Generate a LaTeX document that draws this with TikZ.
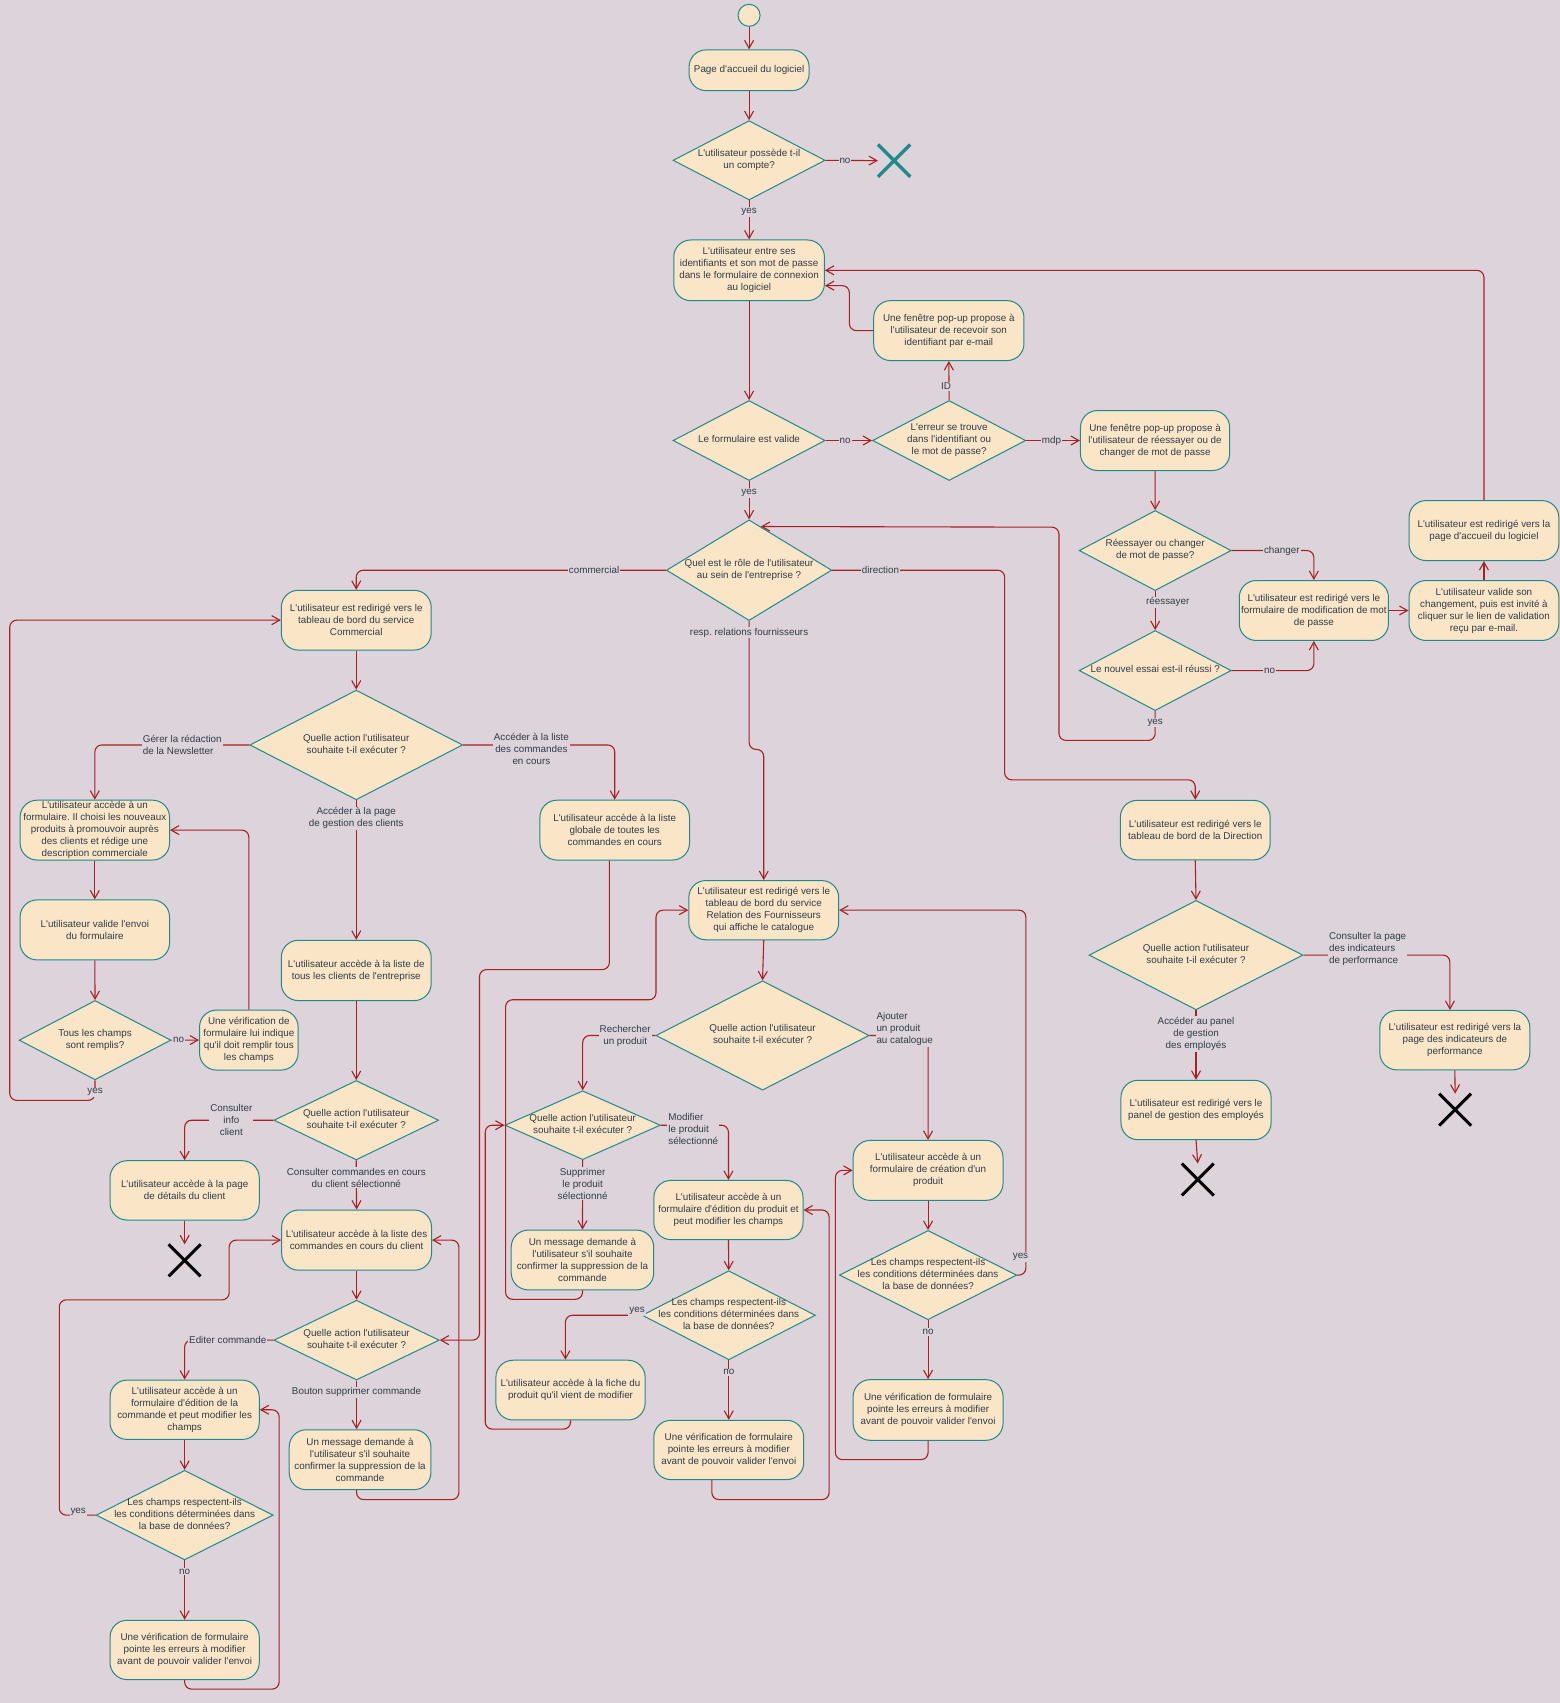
\documentclass[tikz,border=0pt]{standalone}
\usepackage{fontspec}
\newfontfamily\dfont{Liberation Sans}
\usetikzlibrary{shapes.geometric,shapes.misc,arrows.meta}
\frenchspacing

\definecolor{bgc}{RGB}{221,211,219}
\definecolor{boxc}{RGB}{250,229,199}
\definecolor{tealc}{RGB}{30,138,138}
\definecolor{redc}{RGB}{168,32,32}
\definecolor{txtc}{RGB}{48,60,72}

\tikzset{
  every node/.style={font=\dfont\fontsize{9.85}{12}\selectfont, text=txtc},
  actbox/.style={draw=tealc, fill=boxc, rounded corners=17pt, line width=1pt,
    align=center, inner xsep=1pt, inner ysep=1pt},
  decision/.style={diamond, draw=tealc, fill=boxc, line width=1pt, inner sep=0pt},
  startdot/.style={circle, draw=tealc, fill=boxc, line width=1pt, minimum size=22pt, inner sep=0pt},
  endmark/.style={cross out, draw=black, line width=3pt, minimum size=29pt, inner sep=0pt},
  flow/.style={draw=redc, line width=1.1pt, rounded corners=7pt,
    -{Straight Barb[length=8pt,width=9pt,line width=1.1pt]}},
  lbl/.style={fill=bgc, inner sep=1pt, sharp corners, align=center},
}

% rounded activity box: name, centre x, centre y, width, height, text
\newcommand\mkbox[6]{\node[actbox,minimum width=#4*1.0864pt,minimum height=#5*1.0864pt] (#1) at (#2,#3) {#6};}
% decision diamond: name, centre x, centre y, width, height, text
\newcommand\mkdia[6]{\node[decision,minimum width=#4*1.0864pt,minimum height=#5*1.0864pt] (#1) at (#2,#3) {\makebox[0pt]{\begin{tabular}{@{}c@{}}#6\end{tabular}}};}

\begin{document}
\begin{tikzpicture}[x=1.0864pt,y=-1.0864pt]
\useasboundingbox (0,0) rectangle (1436,1568);
\fill[bgc] (0,0) rectangle (1436,1568);

% ---------- login part ----------
\node[startdot] (start) at (689.7,14.1) {};
\mkbox{home}{689.7}{64.7}{110.5}{37.5}{Page d'accueil du logiciel}
\mkdia{dAcc}{689.7}{147.6}{140}{73}{L'utilisateur possède t-il\\un compte?}
\node[endmark, draw=tealc, line width=3.3pt] (X1) at (823.2,147.9) {};
\mkbox{login}{689.7}{248.9}{138.7}{55.9}{L'utilisateur entre ses\\identifiants et son mot de passe\\dans le formulaire de connexion\\au logiciel}
\mkbox{popID}{873.6}{304.4}{138.4}{55.2}{Une fenêtre pop-up propose à\\l'utilisateur de recevoir son\\identifiant par e-mail}
\mkdia{dValid}{689.7}{405.6}{140}{73.6}{Le formulaire est valide}
\mkdia{dErr}{873.9}{405.6}{141}{73.6}{L'erreur se trouve\\dans l'identifiant ou\\le mot de passe?}
\mkbox{popPwd}{1063.5}{405.6}{137.4}{55.2}{Une fenêtre pop-up propose à\\l'utilisateur de réessayer ou de\\changer de mot de passe}
\mkdia{dRetry}{1063.6}{506.9}{140}{73.7}{Réessayer ou changer\\de mot de passe?}
\mkdia{dNew}{1063.6}{617.4}{140}{73.7}{Le nouvel essai est-il réussi ?}
\mkbox{modpwd}{1209.7}{562.1}{137.4}{55.2}{L'utilisateur est redirigé vers le\\formulaire de modification de mot\\de passe}
\mkbox{valid}{1366.3}{562.1}{138}{55.2}{L'utilisateur valide son\\changement, puis est invité à\\cliquer sur le lien de validation\\reçu par e-mail.}
\mkbox{redir}{1366.3}{488.5}{138}{55.2}{L'utilisateur est redirigé vers la\\page d'accueil du logiciel}
\mkdia{dRole}{689.7}{525}{152.2}{92.7}{Quel est le rôle de l'utilisateur\\au sein de l'entreprise ?}

% ---------- commercial part ----------
\mkbox{commercial}{328}{571}{138}{55}{L'utilisateur est redirigé vers le\\tableau de bord du service\\Commercial}
\mkdia{dCom}{328}{685.9}{196}{101}{Quelle action l'utilisateur\\souhaite t-il exécuter ?}
\mkbox{news}{87.3}{764.3}{137.6}{55.1}{L'utilisateur accède à un\\formulaire. Il choisi les nouveaux\\produits à promouvoir auprès\\des clients et rédige une\\description commerciale}
\mkbox{validEnvoi}{87.3}{856.2}{137.6}{55.2}{L'utilisateur valide l'envoi\\du formulaire}
\mkdia{dFields}{87.5}{957.7}{139.7}{73}{Tous les champs\\sont remplis?}
\mkbox{verif}{229.1}{957.6}{90.8}{55.2}{Une vérification de\\formulaire lui indique\\qu'il doit remplir tous\\les champs}
\mkbox{globalOrders}{566}{764.3}{137.7}{55.1}{L'utilisateur accède à la liste\\globale de toutes les\\commandes en cours}
\mkbox{clientList}{328}{893.5}{138}{55.5}{L'utilisateur accède à la liste de\\tous les clients de l'entreprise}
\mkdia{dClient}{328}{1031.4}{151.6}{73.1}{Quelle action l'utilisateur\\souhaite t-il exécuter ?}
\mkbox{clientDetails}{170}{1096}{137.4}{54.6}{L'utilisateur accède à la page\\de détails du client}
\node[endmark] (X2) at (170,1160.4) {};
\mkbox{clientOrders}{328.3}{1141.8}{138}{55.4}{L'utilisateur accède à la liste des\\commandes en cours du client}
\mkdia{dOrder}{328.3}{1233.9}{152.2}{73.4}{Quelle action l'utilisateur\\souhaite t-il exécuter ?}
\mkbox{editOrder}{170}{1298}{137.4}{54.6}{L'utilisateur accède à un\\formulaire d'édition de la\\commande et peut modifier les\\champs}
\mkdia{dOCheck}{170}{1395}{163}{82.5}{Les champs respectent-ils\\les conditions déterminées dans\\la base de données?}
\mkbox{orderVerif}{170}{1519.1}{137.4}{54.6}{Une vérification de formulaire\\pointe les erreurs à modifier\\avant de pouvoir valider l'envoi}
\mkbox{delOrderMsg}{331.5}{1344}{130.4}{55.2}{Un message demande à\\l'utilisateur s'il souhaite\\confirmer la suppression de la\\commande}

% ---------- supplier part ----------
\mkbox{supplier}{703.2}{838}{138}{54.5}{L'utilisateur est redirigé vers le\\tableau de bord du service\\Relation des Fournisseurs\\qui affiche le catalogue}
\mkdia{dSup}{702.1}{953.4}{196.3}{100.7}{Quelle action l'utilisateur\\souhaite t-il exécuter ?}
\mkdia{dProd}{536.5}{1036}{143}{63.4}{Quelle action l'utilisateur\\souhaite t-il exécuter ?}
\mkbox{delProdMsg}{536.3}{1160.1}{131.2}{55}{Un message demande à\\l'utilisateur s'il souhaite\\confirmer la suppression de la\\commande}
\mkbox{editProd}{670.7}{1114.1}{137.3}{54.5}{L'utilisateur accède à un\\formulaire d'édition du produit et\\peut modifier les champs}
\mkdia{dPCheck}{671}{1211}{159.6}{82}{Les champs respectent-ils\\les conditions déterminées dans\\la base de données?}
\mkbox{prodSheet}{525.3}{1279.9}{137.4}{55}{L'utilisateur accède à la fiche du\\produit qu'il vient de modifier}
\mkbox{prodVerif}{671}{1335}{138}{54.6}{Une vérification de formulaire\\pointe les erreurs à modifier\\avant de pouvoir valider l'envoi}
\mkbox{createProd}{854.5}{1077.6}{138}{55.2}{L'utilisateur accède à un\\formulaire de création d'un\\produit}
\mkdia{dCCheck}{854.5}{1174}{163.2}{82.2}{Les champs respectent-ils\\les conditions déterminées dans\\la base de données?}
\mkbox{createVerif}{854.5}{1298.2}{138}{55.8}{Une vérification de formulaire\\pointe les erreurs à modifier\\avant de pouvoir valider l'envoi}

% ---------- direction part ----------
\mkbox{direction}{1100.5}{764.3}{138}{54.9}{L'utilisateur est redirigé vers le\\tableau de bord de la Direction}
\mkdia{dDir}{1101.2}{879.4}{197}{100.7}{Quelle action l'utilisateur\\souhaite t-il exécuter ?}
\mkbox{employees}{1101.2}{1022}{138.2}{54.7}{L'utilisateur est redirigé vers le\\panel de gestion des employés}
\node[endmark] (X3) at (1102.8,1086) {};
\mkbox{kpi}{1339.5}{957.7}{138.1}{54.7}{L'utilisateur est redirigé vers la\\page des indicateurs de\\performance}
\node[endmark] (X4) at (1339.8,1021.7) {};

% ---------- connectors: login ----------
\draw[flow] (start) -- (home);
\draw[flow] (home) -- (dAcc);
\draw[flow] (dAcc.east) -- node[lbl,pos=.37]{no} (X1.west);
\draw[flow] (dAcc.south) -- node[lbl,pos=.3]{yes} (login.north);
\draw[flow] (login.south) -- (dValid.north);
\draw[flow] (popID.west) -| (782,263) -- (login.east |- 0,263);
\draw[flow] (dValid.east) -- node[lbl,pos=.42]{no} (dErr.west);
\draw[flow] (dValid.south) -- node[lbl,pos=.31]{yes} (dRole.north);
\draw[flow] (dErr.north) -- node[lbl,pos=.35,xshift=-3pt]{ID} (popID.south);
\draw[flow] (dErr.east) -- node[lbl,pos=.47]{mdp} (popPwd.west);
\draw[flow] (popPwd.south) -- (dRetry.north);
\draw[flow] (dRetry.east) -| node[lbl,pos=.305]{changer} (modpwd.north);
\draw[flow] (dRetry.south) -- node[lbl,pos=.29,xshift=12.6pt]{réessayer} (dNew.north);
\draw[flow] (dNew.east) -| node[lbl,pos=.23]{no} (modpwd.south);
\draw[flow] (dNew.south) -- node[lbl,pos=.4]{yes} ++(0,27) -| (975,485.4) -- (dRole.75);
\draw[flow] (modpwd.east) -- (valid.west);
\draw[flow] (valid.north) -- (redir.south);
\draw[flow] (redir.north) |- (login.east);

% ---------- connectors: role ----------
\draw[flow] (dRole.west) -| node[lbl,pos=.116]{commercial} (commercial.north);
\draw[flow] (dRole.east) -| node[lbl,pos=.14]{direction} (925,718) -| (direction.north);
\draw[flow] (dRole.south) |- node[lbl,pos=.045]{resp. relations fournisseurs} (supplier.north |- 0,690) -- (supplier.north);

% ---------- connectors: commercial ----------
\draw[flow] (commercial.south) -- (dCom.north);
\draw[flow] (dCom.west) -| node[lbl,pos=.217,align=left]{Gérer la rédaction\\de la Newsletter} (news.north);
\draw[flow] (dCom.east) -| node[lbl,pos=.225,yshift=-4pt]{Accéder à la liste\\des commandes\\en cours} (globalOrders.north);
\draw[flow] (dCom.south) -- node[lbl,pos=.128]{Accéder à la page\\de gestion des clients} (clientList.north);
\draw[flow] (news.south) -- (validEnvoi.north);
\draw[flow] (validEnvoi.south) -- (dFields.north);
\draw[flow] (dFields.east) -- node[lbl,pos=.26]{no} (verif.west);
\draw[flow] (verif.north) |- (news.east);
\draw[flow] (dFields.south) -- node[lbl,pos=.6]{yes} ++(0,18.5) -| (9,571) -- (commercial.west);
\draw[flow] (globalOrders.south -| 561,0) |- (441.5,892.7) |- (dOrder.east);
\draw[flow] (clientList.south) -- (dClient.north);
\draw[flow] (dClient.west) -| node[lbl,pos=.237]{Consulter\\info\\client} (clientDetails.north);
\draw[flow] (dClient.south) -- node[lbl,pos=.355]{Consulter commandes en cours\\du client sélectionné} (clientOrders.north);
\draw[flow] (clientDetails.south) -- (X2.north);
\draw[flow] (clientOrders.south) -- (dOrder.north);
\draw[flow] (dOrder.west) -| node[lbl,pos=.257]{Editer commande} (editOrder.north);
\draw[flow] (dOrder.south) -- node[lbl,pos=.24]{Bouton supprimer commande} (dOrder.south |- delOrderMsg.north);
\draw[flow] (delOrderMsg.south -| dOrder.south) |- (422.5,1380.7) |- (clientOrders.east);
\draw[flow] (editOrder.south) -- (dOCheck.north);
\draw[flow] (dOCheck.west) -| node[lbl,pos=.24,yshift=3.5pt]{yes} (54.6,1196.8) -| (211,1141.8) -- (clientOrders.west);
\draw[flow] (dOCheck.south) -- node[lbl,pos=.19]{no} (orderVerif.north);
\draw[flow] (orderVerif.south) |- (257,1555.2) |- (editOrder.east);

% ---------- connectors: supplier ----------
\draw[flow] (supplier.south) -- (dSup.north);
\draw[flow] (dSup.west) -| node[lbl,pos=.208]{Rechercher\\un produit} (dProd.north);
\draw[flow] (dSup.east) -| node[lbl,pos=.3,yshift=6.5pt,align=left]{Ajouter\\un produit\\au catalogue} (createProd.north);
\draw[flow] (dProd.east) -| node[lbl,pos=.24,yshift=-3.5pt,align=left]{Modifier\\le produit\\sélectionné} (editProd.north);
\draw[flow] (dProd.south) -- node[lbl,pos=.34]{Supprimer\\le produit\\sélectionné} (delProdMsg.north);
\draw[flow] (delProdMsg.south) |- (465.5,1196.3) |- (604,920.5) |- (supplier.west);
\draw[flow] (editProd.south) -- (dPCheck.north);
\draw[flow] (dPCheck.west) -| node[lbl,pos=.03,yshift=4pt]{yes} (prodSheet.north -| 520.6,0);
\draw[flow] (dPCheck.south) -- node[lbl,pos=.2]{no} (prodVerif.north);
\draw[flow] (prodVerif.south -| 655.4,0) |- (763.4,1380.7) |- (editProd.east);
\draw[flow] (prodSheet.south) |- (446.8,1315.8) |- (dProd.west);
\draw[flow] (createProd.south) -- (dCCheck.north);
\draw[flow] (dCCheck.east) -- ++(8,0) |- node[lbl,pos=.025,xshift=-5.4pt]{yes} (supplier.east);
\draw[flow] (dCCheck.south) -- node[lbl,pos=.2]{no} (createVerif.north);
\draw[flow] (createVerif.south) |- (769.2,1343.9) |- (createProd.west);

% ---------- connectors: direction ----------
\draw[flow] (direction.south) -- (dDir.north);
\draw[flow] (dDir.south) -- node[lbl,pos=.34]{Accéder au panel\\de gestion\\des employés} (employees.north);
\draw[flow] (dDir.east) -| node[lbl,pos=.219,yshift=6pt,align=left]{Consulter la page\\des indicateurs\\de performance} ([xshift=-4.9pt]kpi.north);
\draw[flow] (employees.south) -- (X3.north);
\draw[flow] (kpi.south) -- (X4.north);
\end{tikzpicture}
\end{document}
